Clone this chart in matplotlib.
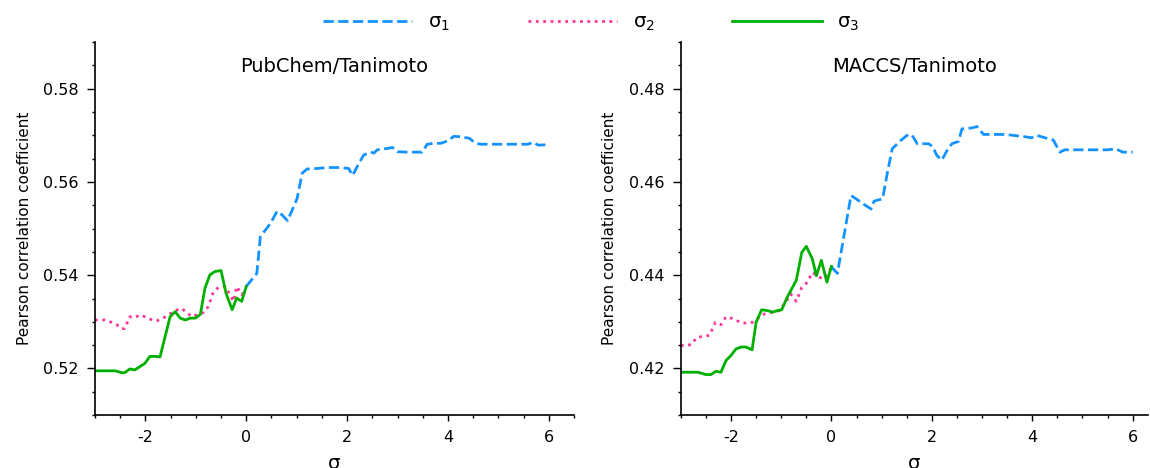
import matplotlib
matplotlib.use("Agg")
import matplotlib.pyplot as plt
from matplotlib.ticker import MultipleLocator

plt.rcParams['axes.unicode_minus'] = False

# PubChem/Tanimoto
pc_s1_x = [0.0, 0.21, 0.28, 0.38, 0.48, 0.61, 0.66, 0.82, 0.94, 1.01, 1.11, 1.21, 1.41, 1.60, 1.87,
           2.03, 2.11, 2.20, 2.33, 2.47, 2.53, 2.60, 2.80, 2.90, 3.0, 3.19, 3.49, 3.59, 3.72, 3.86,
           3.99, 4.12, 4.24, 4.42, 4.55, 4.65, 5.18, 5.58, 5.70, 5.79, 6.0]
pc_s1_y = [0.5376, 0.5404, 0.5483, 0.5497, 0.5511, 0.5537, 0.5535, 0.5517, 0.5547, 0.5565, 0.5619,
           0.5628, 0.5629, 0.5631, 0.5631, 0.5629, 0.5614, 0.5633, 0.5658, 0.5664, 0.5662, 0.5669,
           0.5672, 0.5674, 0.5665, 0.5664, 0.5664, 0.5681, 0.5683, 0.5683, 0.5688, 0.5698, 0.5697,
           0.5694, 0.5683, 0.5681, 0.5681, 0.5681, 0.5685, 0.5679, 0.5680]
pc_s2_x = [-3.0, -2.80, -2.67, -2.57, -2.47, -2.41, -2.31, -2.21, -2.11, -2.01, -1.91, -1.78, -1.68,
           -1.54, -1.41, -1.28, -1.18, -1.08, -0.98, -0.85, -0.75, -0.65, -0.55, -0.42, -0.32,
           -0.25, -0.19, -0.09, -0.02]
pc_s2_y = [0.5304, 0.5304, 0.5299, 0.5294, 0.5285, 0.5286, 0.5311, 0.5309, 0.5315, 0.5311, 0.5306,
           0.5302, 0.5306, 0.5315, 0.5324, 0.5329, 0.5320, 0.5311, 0.5315, 0.5320, 0.5333, 0.5365,
           0.5374, 0.5376, 0.5358, 0.5344, 0.5376, 0.5358, 0.5369]
pc_s3_x = [-3.0, -2.60, -2.47, -2.41, -2.31, -2.21, -2.11, -2.01, -1.91, -1.81, -1.71, -1.51, -1.41,
           -1.31, -1.21, -1.11, -1.01, -0.91, -0.82, -0.72, -0.62, -0.50, -0.40, -0.28, -0.19,
           -0.09, 0.0]
pc_s3_y = [0.5195, 0.5195, 0.5191, 0.5191, 0.5199, 0.5197, 0.5204, 0.5211, 0.5226, 0.5226, 0.5225,
           0.5311, 0.5322, 0.5308, 0.5304, 0.5308, 0.5308, 0.5316, 0.5372, 0.5401, 0.5408, 0.5410,
           0.5361, 0.5326, 0.5351, 0.5344, 0.5376]

# MACCS/Tanimoto
mc_s1_x = [0.0, 0.12, 0.39, 0.49, 0.62, 0.79, 0.85, 1.02, 1.11, 1.21, 1.38, 1.53, 1.61, 1.71, 1.94,
           2.02, 2.10, 2.20, 2.30, 2.40, 2.53, 2.60, 2.80, 2.90, 3.03, 3.46, 3.79, 3.99, 4.09, 4.25,
           4.42, 4.55, 4.65, 5.50, 5.67, 5.80, 6.0]
mc_s1_y = [0.4418, 0.4404, 0.4571, 0.4564, 0.4554, 0.4542, 0.4559, 0.4564, 0.4617, 0.4671, 0.4689,
           0.4702, 0.4700, 0.4682, 0.4682, 0.4675, 0.4657, 0.4647, 0.4667, 0.4682, 0.4687, 0.4714,
           0.4716, 0.4719, 0.4702, 0.4702, 0.4698, 0.4695, 0.4700, 0.4695, 0.4690, 0.4664, 0.4669,
           0.4669, 0.4671, 0.4664, 0.4664]
mc_s2_x = [-3.0, -2.79, -2.69, -2.56, -2.43, -2.31, -2.20, -2.10, -1.97, -1.77, -1.57, -1.37, -1.17,
           -1.04, -0.91, -0.81, -0.70, -0.59, -0.48, -0.38, -0.28, -0.18, -0.09, 0.0]
mc_s2_y = [0.4249, 0.4251, 0.4266, 0.4269, 0.4271, 0.4299, 0.4294, 0.4311, 0.4307, 0.4297, 0.4299,
           0.4316, 0.4321, 0.4324, 0.4342, 0.4360, 0.4344, 0.4374, 0.4385, 0.4406, 0.4399, 0.4392,
           0.4403, 0.4416]
mc_s3_x = [-3.0, -2.66, -2.50, -2.40, -2.30, -2.20, -2.10, -2.00, -1.90, -1.80, -1.70, -1.58, -1.50,
           -1.39, -1.27, -1.17, -1.08, -0.99, -0.88, -0.78, -0.70, -0.59, -0.50, -0.38, -0.30,
           -0.20, -0.09, 0.0]
mc_s3_y = [0.4192, 0.4192, 0.4187, 0.4187, 0.4194, 0.4192, 0.4217, 0.4228, 0.4242, 0.4246, 0.4246,
           0.4240, 0.4299, 0.4326, 0.4324, 0.4321, 0.4324, 0.4326, 0.4353, 0.4373, 0.4389, 0.4449,
           0.4462, 0.4435, 0.4399, 0.4432, 0.4385, 0.4419]

labels = [r'$\mathregular{σ_1}$', r'$\mathregular{σ_2}$', r'$\mathregular{σ_3}$']
c1, c2, c3 = '#1493ff', '#ff3399', '#00b000'

fig = plt.figure(figsize=(11.5, 4.68), dpi=100)
ax1 = fig.add_axes([0.0826, 0.113, 0.4165, 0.797])
ax2 = fig.add_axes([0.592, 0.113, 0.406, 0.797])

panels = [
    (ax1, 'PubChem/Tanimoto', pc_s1_x, pc_s1_y, pc_s2_x, pc_s2_y, pc_s3_x, pc_s3_y, (-3, 6.5), (0.51, 0.59)),
    (ax2, 'MACCS/Tanimoto', mc_s1_x, mc_s1_y, mc_s2_x, mc_s2_y, mc_s3_x, mc_s3_y, (-3, 6.3), (0.41, 0.49)),
]

for ax, title, x1, y1, x2, y2, x3, y3, xl, yl in panels:
    ax.plot(x1, y1, color=c1, ls='--', lw=2, label=labels[0])
    ax.plot(x2, y2, color=c2, ls=':', lw=2, label=labels[1])
    ax.plot(x3, y3, color=c3, ls='-', lw=2, label=labels[2])
    ax.set_xlim(*xl)
    ax.set_ylim(*yl)
    ax.xaxis.set_major_locator(MultipleLocator(2))
    ax.xaxis.set_minor_locator(MultipleLocator(0.5))
    ax.yaxis.set_major_locator(MultipleLocator(0.02))
    ax.yaxis.set_minor_locator(MultipleLocator(0.005))
    ax.spines['top'].set_visible(False)
    ax.spines['right'].set_visible(False)
    ax.spines['left'].set_linewidth(1.2)
    ax.spines['bottom'].set_linewidth(1.2)
    ax.tick_params(axis='y', which='major', length=6, width=1, pad=6, labelsize=11.5)
    ax.tick_params(axis='x', which='major', length=4, width=1, pad=7, labelsize=11.5)
    ax.tick_params(which='minor', length=2.5, width=1)
    ax.set_ylabel('Pearson correlation coefficient', fontsize=11, labelpad=8)
    ax.set_xlabel('σ', fontsize=14, labelpad=6)
    ax.text(0.5, 0.935, title, transform=ax.transAxes, ha='center', va='center', fontsize=14)

handles, labs = ax1.get_legend_handles_labels()
fig.legend(handles, labs, loc='upper center', bbox_to_anchor=(0.514, 1.01), ncol=3, frameon=False,
           fontsize=14, handlelength=4.6, handletextpad=0.8, columnspacing=4.0)

fig.savefig('out.png', dpi=100)
